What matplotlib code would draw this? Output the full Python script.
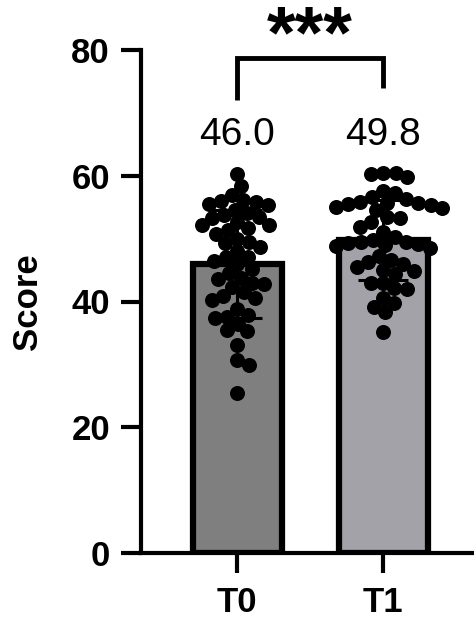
import numpy as np
import matplotlib
matplotlib.use("Agg")
import matplotlib.pyplot as plt

# ---- data ----
groups = ["T0", "T1"]
means = [46.0, 49.8]
sds = [8.6, 6.4]
bar_colors = ["#7f7f7f", "#a3a2a8"]
y_ticks = [0, 20, 40, 60, 80]
sig_label = "***"

t0_scores = [60.2, 58.3, 56.9, 56.0, 55.9, 55.4, 55.5, 56.1, 54.0, 53.4,
             53.3, 52.2, 52.1, 51.7, 51.3, 50.8, 50.0, 49.5, 49.3, 48.6,
             48.0, 47.1, 47.0, 46.5, 46.0, 45.2, 44.5, 43.8, 43.5, 43.0,
             42.8, 42.3, 41.5, 40.9, 40.6, 40.2, 38.8, 37.9, 37.6, 37.4,
             36.5, 35.3, 35.5, 33.1, 30.7, 29.9, 25.5, 54.6, 53.8, 52.6]
t1_scores = [60.5, 60.4, 60.3, 59.8, 57.5, 57.3, 56.6, 56.3, 55.9, 55.7,
             55.6, 55.5, 55.4, 55.0, 54.8, 54.5, 53.5, 53.3, 52.7, 51.9,
             51.0, 50.3, 49.8, 49.5, 49.4, 49.3, 49.2, 49.0, 48.9, 48.5,
             47.2, 46.6, 46.3, 45.9, 45.5, 45.0, 44.9, 44.3, 43.0, 42.9,
             42.1, 42.0, 40.5, 39.7, 39.2, 38.4, 35.2]
scores = [t0_scores, t1_scores]

plt.rcParams['font.family'] = ['Liberation Sans', 'DejaVu Sans']

fig = plt.figure(figsize=(4.74, 6.19), dpi=100)
ax = fig.add_axes([141 / 474, 66 / 619, 333 / 474, 503 / 619])
x = np.arange(len(groups))
ax.set_xlim(-0.658, 1.623)
ax.set_ylim(0, 80)


def swarm_offsets(values, spacing_px):
    """Greedy beeswarm: x offsets (data units) so dots don't pile up."""
    trans = ax.transData
    vals = np.asarray(values, dtype=float)
    ys = trans.transform(np.column_stack([np.zeros_like(vals), vals]))[:, 1]
    px_per_x = trans.transform([[1, 0]])[0, 0] - trans.transform([[0, 0]])[0, 0]
    order = np.argsort(-vals)
    placed = []
    offs = np.zeros_like(vals)
    d2 = spacing_px ** 2
    for i in order:
        y = ys[i]
        cands = [0.0]
        for px, py in placed:
            dy = y - py
            if abs(dy) < spacing_px:
                dx = np.sqrt(d2 - dy ** 2)
                cands += [px + dx, px - dx]
        cands.sort(key=abs)
        for c in cands:
            if all((c - px) ** 2 + (y - py) ** 2 >= d2 - 1e-6 for px, py in placed):
                offs[i] = c
                placed.append((c, y))
                break
    return offs / px_per_x


ax.bar(x, means, width=0.61, color=bar_colors, edgecolor='black',
       linewidth=4.5, zorder=1)
ax.errorbar(x, means, yerr=sds, fmt='none', ecolor='black', elinewidth=2.2,
            capsize=18, capthick=2.2, zorder=3)

for xi, vals in zip(x, scores):
    offs = swarm_offsets(vals, 12.5)
    ax.scatter(xi + offs, vals, s=10.8 ** 2, color='black', linewidths=0,
               zorder=4, clip_on=False)

# mean labels
for xi, m in zip(x, means):
    ax.text(xi, 64.9, f"{m:.1f}", ha='center', va='baseline', fontsize=28)

# significance bracket
ax.plot([0, 0, 1, 1], [72.0, 78.7, 78.7, 73.9], color='black', lw=3.5,
        clip_on=False, solid_joinstyle='miter', solid_capstyle='butt')
ax.text(0.5, 78.9, sig_label, ha='center', va='baseline', fontsize=53,
        fontweight='bold', clip_on=False)

# axes styling
for side in ('top', 'right'):
    ax.spines[side].set_visible(False)
for side in ('left', 'bottom'):
    ax.spines[side].set_linewidth(3)
ax.set_yticks(y_ticks)
ax.set_xticks(x)
ax.set_xticklabels(groups)
ax.tick_params(axis='both', length=14.4, width=3, labelsize=25)
ax.tick_params(axis='y', pad=8)
ax.tick_params(axis='x', pad=9)
for lbl in ax.get_xticklabels() + ax.get_yticklabels():
    lbl.set_fontweight('bold')

ax.set_ylabel("Score", fontsize=25, fontweight='bold')
ax.yaxis.set_label_coords(-0.291, 0.5)

fig.savefig("out.png", dpi=100)
